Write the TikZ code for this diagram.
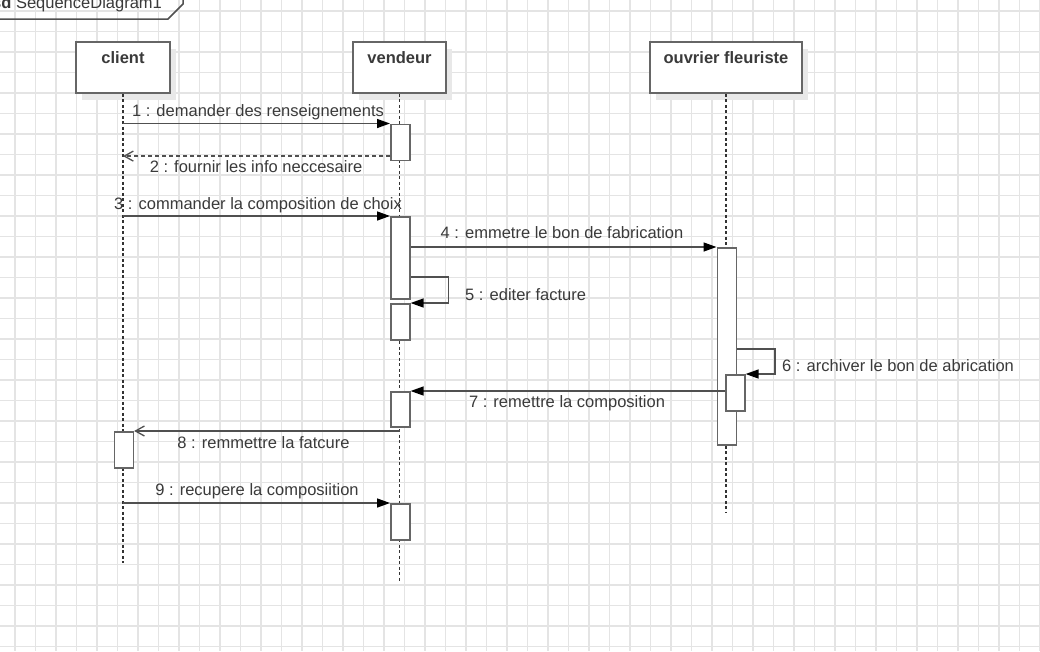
\documentclass[tikz,border=0pt]{standalone}
\usepackage{fontspec}
\setmainfont{Liberation Sans}
\usetikzlibrary{arrows.meta,calc,shadows}
\definecolor{txt}{HTML}{3A3A3A}
\definecolor{ln}{HTML}{505050}
\definecolor{bx}{HTML}{666666}
\definecolor{gridc}{HTML}{E4E4E4}
\definecolor{lifec}{HTML}{333333}
\begin{document}
\begin{tikzpicture}[x=1pt,y=-1pt,
  lbl/.style={font=\fontsize{16.5}{19}\selectfont, text=txt, inner sep=0pt},
  head/.style={draw=bx, line width=1.6pt, fill=white, minimum width=#1, minimum height=51pt,
    text height=11pt, text depth=20pt, inner sep=0pt, text=txt,
    font=\fontsize{16.5}{19}\selectfont\bfseries,
    drop shadow={shadow xshift=6pt, shadow yshift=-7pt, fill=black!9, opacity=1}},
  act/.style={draw=bx, line width=1.6pt, fill=white, minimum width=19pt, minimum height=#1,
    inner sep=0pt, anchor=north west},
  life/.style={draw=lifec, line width=1.3pt, dash pattern=on 3pt off 2.5pt},
  msg/.style={draw=ln, line width=1.4pt, -{Triangle[length=13pt,width=9pt,color=black]}},
  ret/.style={draw=ln, line width=1.3pt, dash pattern=on 4pt off 3pt, -{Straight Barb[length=9pt,width=10pt]}},
  reply/.style={draw=ln, line width=1.3pt, -{Straight Barb[length=9pt,width=10pt]}},
  gridline/.style={draw=gridc, line width=1.4pt},
  framel/.style={draw=ln, line width=1.5pt}
]
\useasboundingbox (0,0) rectangle (1040,651);
\fill[white] (0,0) rectangle (1040,651);
% grid
\foreach \i in {0,...,50} \draw[gridline] ({15+20.5*\i},0) -- ({15+20.5*\i},651);
\foreach \j in {0,...,31} \draw[gridline] (0,{11+20.5*\j}) -- (1040,{11+20.5*\j});

% frame label
\draw[framel] (-2,19) -- (168,19) -- (183,4) -- (183,-3);
\node[lbl, anchor=base west] (frametitle) at (-8,8.5) {\textbf{sd} SequenceDiagram1};

% lifeline heads
\node[head=94pt] (client) at (123,67.5) {client};
\node[head=93pt] (vendeur) at (399.5,67.5) {vendeur};
\node[head=152pt] (ouvrier) at (726,67.5) {ouvrier fleuriste};

% lifeline ends
\coordinate (cEnd) at (123,563);
\coordinate (vEnd) at (399.5,582);
\coordinate (oEnd) at (726,513);
\draw[life] (client.south) -- (cEnd);
\draw[life] (vendeur.south) -- (vEnd);
\draw[life] (ouvrier.south) -- (oEnd);

% activation boxes
\node[act=36pt] (a1) at (390,123.5) {};
\node[act=82pt] (a3) at (390,216) {};
\node[act=36pt] (a5) at (390,303) {};
\node[act=35pt] (a7) at (390,391) {};
\node[act=36pt] (a9) at (390,503) {};
\node[act=197pt] (b4) at (716.5,247) {};
\node[act=36pt] (b6) at (725,374) {};
\node[act=36pt] (c8) at (113.5,431) {};

% messages
\draw[msg] (client.south |- a1.north west) -- (a1.north west);
\coordinate (r2) at ($(a1.south west)+(0,-5)$);
\draw[ret] (r2) -- (client.south |- r2);
\draw[msg] (client.south |- a3.north west) -- (a3.north west);
\draw[msg] (a3.east |- b4.north west) -- (b4.north west);
\coordinate (s5) at (a3.east |- 0,277);
\draw[msg] (s5) -- ++(38,0) |- (a5.north east);
\coordinate (s6) at (b4.east |- 0,349);
\draw[msg] (s6) -- ++(38,0) |- (b6.north east);
\draw[msg] (b6.west |- a7.north east) -- (a7.north east);
\draw[reply] (vendeur.south |- c8.north east) -- (c8.north east);
\draw[msg] (client.south |- a9.north west) -- (a9.north west);

% labels
\node[lbl, anchor=base] (t1) at (258,116.5) {1 : demander des renseignements};
\node[lbl, anchor=base] (t2) at (256,172.3) {2 : fournir les info neccesaire};
\node[lbl, anchor=base] (t3) at (258,209) {3 : commander la composition de choix};
\node[lbl, anchor=base] (t4) at (562,238.5) {4 : emmetre le bon de fabrication};
\node[lbl, anchor=base west] (t5) at (465,300) {5 : editer facture};
\node[lbl, anchor=base west] (t6) at (782,371.5) {6 : archiver le bon de abrication};
\node[lbl, anchor=base] (t7) at (567,407.3) {7 : remettre la composition};
\node[lbl, anchor=base] (t8) at (263.5,448.3) {8 : remmettre la fatcure};
\node[lbl, anchor=base] (t9) at (257,495) {9 : recupere la composiition};
\end{tikzpicture}
\end{document}
